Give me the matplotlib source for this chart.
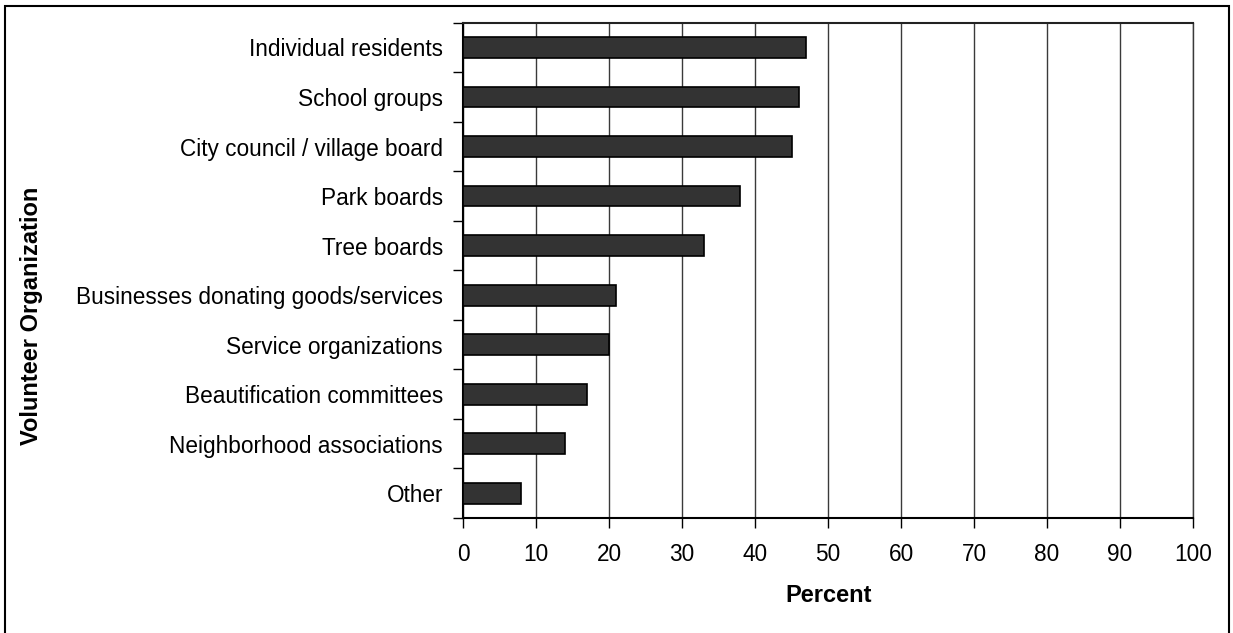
import matplotlib
matplotlib.use("Agg")
import matplotlib.pyplot as plt
from matplotlib.patches import Rectangle
import numpy as np

plt.rcParams['font.family'] = ['Liberation Sans', 'DejaVu Sans']

categories = ["Individual residents", "School groups", "City council / village board",
              "Park boards", "Tree boards", "Businesses donating goods/services",
              "Service organizations", "Beautification committees",
              "Neighborhood associations", "Other"]
values = [47, 46, 45, 38, 33, 21, 20, 17, 14, 8]
xticks = [0, 10, 20, 30, 40, 50, 60, 70, 80, 90, 100]

W, H = 1233, 633
fig = plt.figure(figsize=(W/100, H/100), dpi=100)
ax = fig.add_axes([463/W, 1 - 518/H, (1193-463)/W, (518-22.7)/H])

n = len(categories)
ypos = np.arange(n)
ax.barh(ypos, values, height=0.42, color='#333333', edgecolor='black', linewidth=1.2, zorder=3)
ax.set_ylim(n - 0.5, -0.5)
ax.set_xlim(0, 100)

ax.set_xticks(xticks)
ax.set_xticklabels([str(t) for t in xticks], fontsize=16.3)
ax.xaxis.grid(True, color='#3a3a3a', linewidth=1.0, zorder=1)
ax.set_axisbelow(True)

ax.set_yticks(ypos)
ax.set_yticklabels(categories, fontsize=16.3)
ax.tick_params(axis='y', length=0, pad=14.4)
ax.set_yticks(np.arange(n + 1) - 0.5, minor=True)
ax.tick_params(axis='y', which='minor', length=7, width=1, direction='out')
ax.tick_params(axis='x', length=7, width=1, direction='out', pad=11)

for s in ['left', 'bottom']:
    ax.spines[s].set_linewidth(1.5)
    ax.spines[s].set_color('black')
ax.spines['top'].set_linewidth(1.5)
ax.spines['top'].set_color('#222222')
ax.spines['right'].set_linewidth(1.0)
ax.spines['right'].set_color('#3a3a3a')

fig.text(829/W, 1 - 595/H, "Percent", fontsize=17, fontweight='bold', ha='center', va='center')
fig.text(32/W, 1 - 316/H, "Volunteer Organization", rotation=90, fontsize=17,
         fontweight='bold', ha='center', va='center')

border = Rectangle((4.5/W, -0.05), (1229-4.5)/W, 1.05 - 5.5/H, transform=fig.transFigure,
                   fill=False, edgecolor='black', linewidth=1.5, clip_on=False)
fig.patches.append(border)

fig.savefig("out.png", dpi=100)
